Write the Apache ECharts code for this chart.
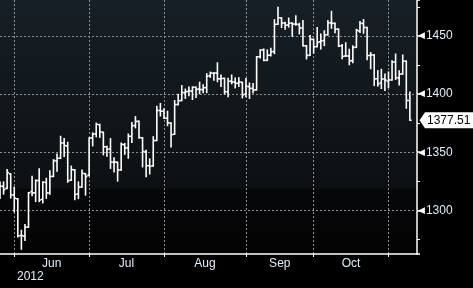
<!DOCTYPE html>
<html>
<head>
<meta charset="utf-8">
<script src="https://cdn.jsdelivr.net/npm/echarts@6/dist/echarts.min.js"></script>
<style>
html,body{margin:0;padding:0;background:#000;}
#c{width:473px;height:288px;}
</style>
</head>
<body>
<div id="c"></div>
<script>
// ---- data ----
const dates = [
 '2012-05-24','2012-05-25','2012-05-29','2012-05-30','2012-05-31',
 '2012-06-01','2012-06-04','2012-06-05','2012-06-06','2012-06-07','2012-06-08','2012-06-11','2012-06-12','2012-06-13','2012-06-14','2012-06-15','2012-06-18','2012-06-19','2012-06-20','2012-06-21','2012-06-22','2012-06-25','2012-06-26','2012-06-27','2012-06-28','2012-06-29',
 '2012-07-02','2012-07-03','2012-07-05','2012-07-06','2012-07-09','2012-07-10','2012-07-11','2012-07-12','2012-07-13','2012-07-16','2012-07-17','2012-07-18','2012-07-19','2012-07-20','2012-07-23','2012-07-24','2012-07-25','2012-07-26','2012-07-27','2012-07-30','2012-07-31',
 '2012-08-01','2012-08-02','2012-08-03','2012-08-06','2012-08-07','2012-08-08','2012-08-09','2012-08-10','2012-08-13','2012-08-14','2012-08-15','2012-08-16','2012-08-17','2012-08-20','2012-08-21','2012-08-22','2012-08-23','2012-08-24','2012-08-27','2012-08-28','2012-08-29','2012-08-30','2012-08-31',
 '2012-09-04','2012-09-05','2012-09-06','2012-09-07','2012-09-10','2012-09-11','2012-09-12','2012-09-13','2012-09-14','2012-09-17','2012-09-18','2012-09-19','2012-09-20','2012-09-21','2012-09-24','2012-09-25','2012-09-26','2012-09-27','2012-09-28',
 '2012-10-01','2012-10-02','2012-10-03','2012-10-04','2012-10-05','2012-10-08','2012-10-09','2012-10-10','2012-10-11','2012-10-12','2012-10-15','2012-10-16','2012-10-17','2012-10-18','2012-10-19','2012-10-22','2012-10-23','2012-10-24','2012-10-25','2012-10-26','2012-10-31',
 '2012-11-01','2012-11-02','2012-11-05','2012-11-06','2012-11-07','2012-11-08'
];
const opens = [
 1318.7,1320.6,1318.9,1331.3,1313.1,
 1309.9,1278.3,1277.8,1285.6,1316.2,1315.0,1325.7,1309.4,1324.0,1314.9,1329.2,1342.4,1344.8,1358.0,1355.4,1325.9,1334.9,1314.1,1320.0,1331.5,1330.1,
 1362.3,1365.8,1373.7,1367.1,1354.7,1353.0,1341.4,1341.3,1334.8,1356.5,1353.7,1363.7,1373.0,1376.5,1362.3,1350.5,1338.4,1338.2,1360.1,1385.9,1385.3,
 1379.3,1375.1,1365.5,1391.0,1394.5,1401.2,1402.3,1402.6,1405.9,1404.4,1403.9,1405.6,1415.8,1417.9,1418.1,1413.1,1413.5,1402.0,1411.1,1410.4,1409.3,1410.1,1400.1,
 1406.5,1404.9,1403.7,1432.1,1437.9,1429.1,1433.6,1436.6,1460.1,1465.4,1461.2,1459.5,1461.0,1460.3,1459.8,1456.9,1441.6,1433.4,1447.1,
 1440.9,1445.0,1446.1,1451.1,1461.4,1460.9,1455.9,1441.5,1432.8,1432.8,1428.8,1440.3,1454.2,1460.9,1457.3,1433.2,1433.7,1413.2,1409.7,1413.0,1411.0,
 1412.2,1427.6,1414.0,1417.3,1428.3,1394.5
];
const highs = [
 1324.1,1324.2,1334.9,1331.3,1319.7,
 1309.9,1282.6,1287.6,1315.1,1329.1,1325.8,1335.5,1324.3,1327.3,1333.7,1343.3,1348.2,1363.5,1361.6,1358.3,1337.8,1334.9,1324.2,1334.4,1331.5,1362.2,
 1366.4,1374.8,1373.9,1367.1,1354.9,1361.5,1345.0,1341.3,1357.7,1357.3,1365.4,1375.3,1380.4,1376.5,1362.3,1351.5,1344.0,1363.1,1389.2,1391.7,1387.2,
 1385.0,1375.1,1394.2,1399.6,1407.1,1404.1,1405.9,1406.0,1405.9,1410.0,1407.7,1417.4,1418.7,1418.1,1426.7,1416.1,1413.5,1413.5,1416.2,1413.6,1413.9,1410.1,1413.1,
 1409.3,1408.8,1432.1,1437.9,1438.7,1437.8,1439.2,1463.8,1474.5,1465.6,1461.5,1465.2,1461.2,1467.1,1460.7,1463.2,1441.6,1450.2,1447.1,
 1457.1,1451.5,1454.3,1463.1,1471.0,1460.9,1455.9,1442.5,1443.9,1438.4,1441.3,1455.5,1462.2,1464.0,1457.3,1435.5,1433.7,1420.0,1421.1,1417.1,1418.8,
 1428.4,1434.3,1419.9,1433.4,1428.3,1401.5
];
const lows = [
 1310.5,1314.2,1318.9,1310.8,1298.9,
 1277.3,1266.7,1274.2,1285.6,1312.7,1307.8,1307.7,1306.6,1310.5,1314.1,1329.2,1333.8,1344.8,1346.5,1324.4,1325.9,1309.3,1310.3,1320.0,1313.3,1330.1,
 1355.7,1363.5,1363.0,1348.0,1346.7,1336.3,1333.3,1325.4,1334.8,1348.5,1345.1,1358.6,1371.2,1362.2,1337.6,1329.2,1331.5,1338.2,1360.1,1381.4,1379.2,
 1373.1,1354.7,1365.5,1391.0,1394.5,1396.6,1398.8,1395.6,1397.3,1400.6,1401.5,1401.5,1414.7,1412.1,1410.9,1406.8,1400.5,1398.0,1409.1,1405.6,1406.8,1397.0,1398.0,
 1396.6,1401.3,1403.7,1431.4,1429.0,1429.1,1433.0,1435.1,1460.1,1457.6,1456.1,1457.9,1450.0,1459.5,1452.1,1441.6,1430.5,1433.4,1435.6,
 1440.9,1439.0,1442.0,1451.1,1456.9,1453.1,1441.2,1430.6,1432.8,1425.5,1427.2,1440.3,1453.3,1452.6,1429.9,1422.1,1407.6,1407.1,1405.1,1403.3,1405.9,
 1412.2,1412.9,1408.1,1417.3,1388.1,1377.5
];
const closes = [
 1320.68,1317.82,1332.42,1313.32,1310.33,
 1278.04,1278.18,1285.50,1315.13,1314.99,1325.66,1308.93,1324.18,1314.88,1329.10,1342.84,1344.78,1357.98,1355.69,1325.51,1335.02,1313.72,1319.99,1331.85,1329.04,1362.16,
 1365.51,1374.02,1367.58,1354.68,1352.46,1341.47,1341.45,1334.76,1356.78,1353.64,1363.67,1372.78,1376.51,1362.66,1350.52,1338.31,1337.89,1360.02,1385.97,1385.30,1379.32,
 1375.32,1365.00,1390.99,1394.23,1401.35,1402.22,1402.80,1405.87,1404.11,1403.93,1405.53,1415.51,1418.16,1418.13,1413.17,1413.49,1402.08,1411.13,1410.44,1409.30,1410.49,1399.48,1406.58,
 1404.94,1403.44,1432.12,1437.92,1429.08,1433.56,1436.56,1459.99,1465.77,1461.19,1459.32,1461.05,1460.26,1460.15,1456.89,1441.59,1433.32,1447.15,1440.67,
 1444.49,1445.75,1450.99,1461.40,1460.93,1455.88,1441.48,1432.56,1432.84,1428.59,1440.13,1454.92,1460.91,1457.34,1433.19,1433.82,1413.11,1408.75,1412.97,1411.94,1412.16,
 1427.59,1414.20,1417.26,1428.39,1394.53,1377.51
];
const monthLabels = ['Jun','Jul','Aug','Sep','Oct'];
const yearLabel = '2012';
const yTicks = [1300,1350,1400,1450];
const lastPrice = 1377.51;
const padCategories = 2;

// ---- build ----
const FONT = "'Liberation Sans', Arial, sans-serif";
const TXT = '#e2edfb';
const cats = dates.concat(Array(padCategories).fill(''));
const ohlc = dates.map((d,i)=>[i, opens[i], highs[i], lows[i], closes[i]]);
const monthEnds = [];
for (let i=0;i<dates.length-1;i++){ if (dates[i].slice(5,7)!==dates[i+1].slice(5,7)) monthEnds.push(i); }
const endSet = new Set(monthEnds);
const labelPos = {};
for (let k=0;k<monthLabels.length;k++){
  const mid=(monthEnds[k]+monthEnds[k+1])/2;
  labelPos[Math.floor(mid)] = {text: monthLabels[k], half: mid%1!==0};
}

const chart = echarts.init(document.getElementById('c'), null, {renderer:'canvas'});
const option = {
  animation:false,
  backgroundColor:'#000',
  title:{text:yearLabel, left:17, top:271, padding:0,
    textStyle:{color:TXT, fontSize:12, fontWeight:'normal', fontFamily:FONT}},
  grid:{left:0, right:56, top:0, bottom:34, show:true, borderWidth:0,
    backgroundColor:new echarts.graphic.LinearGradient(0,0,0,1,[
      {offset:0, color:'#172026'},
      {offset:0.4, color:'#11171b'},
      {offset:0.74, color:'#0c1013'},
      {offset:0.745, color:'#07080a'},
      {offset:1, color:'#030303'}
    ])},
  xAxis:{
    type:'category', data:cats, boundaryGap:false,
    axisLine:{show:true, lineStyle:{color:'#fff', width:1.5}},
    axisTick:{show:true, inside:false, length:3, interval:(i)=>endSet.has(i), lineStyle:{color:'#fff', width:1}},
    splitLine:{show:true, interval:(i)=>endSet.has(i), lineStyle:{color:'#8f8f8f', type:[2,2], width:1}},
    axisLabel:{show:true, margin:4, interval:(i)=>labelPos[i]!==undefined,
      color:TXT, fontSize:12, fontFamily:FONT,
      formatter:(v,i)=>{ const p=labelPos[i]; if(!p) return ''; return p.half ? '{h|'+p.text+'}' : p.text; },
      rich:{h:{padding:[0,0,0,3.6], color:TXT, fontSize:12, fontFamily:FONT}}}
  },
  yAxis:{
    type:'value', position:'right', min:1262.4, max:1481, scale:true,
    axisLine:{show:true, lineStyle:{color:'#fff', width:1.5}},
    axisTick:{show:true, inside:false, length:3, lineStyle:{color:'#fff', width:1.5}},
    minorTick:{show:true, splitNumber:2, length:3, lineStyle:{color:'#fff', width:1}},
    splitLine:{show:false},
    axisLabel:{show:true, margin:1, showMinLabel:false, showMaxLabel:false,
      color:TXT, fontSize:12, fontFamily:FONT,
      formatter:(v)=> yTicks.indexOf(v)>=0 ? '{a|◀}{b|'+v+'}' : '',
      rich:{a:{color:'#ffffff', fontSize:9, fontFamily:'DejaVu Sans', padding:[0,1,0,0]},
            b:{color:TXT, fontSize:12, fontFamily:FONT}}}
  },
  series:[
    {
      type:'custom', name:'grid', silent:true, clip:true,
      data: yTicks.map(v=>[0,v]),
      encode:{x:0, y:1},
      renderItem:(params, api)=>{
        const cs = params.coordSys;
        const y = Math.round(api.coord([0, api.value(1)])[1]) + 0.5;
        return {type:'line', shape:{x1:cs.x, y1:y, x2:cs.x+cs.width, y2:y},
          style:{stroke:'#8f8f8f', lineWidth:1, lineDash:[2,2]}};
      }
    },
    {
      type:'custom', name:'ohlc', silent:true, clip:true,
      data: ohlc,
      encode:{x:0, y:[1,2,3,4]},
      renderItem:(params, api)=>{
        const x = api.value(0);
        const o = api.coord([x, api.value(1)]);
        const h = api.coord([x, api.value(2)]);
        const l = api.coord([x, api.value(3)]);
        const c = api.coord([x, api.value(4)]);
        const w = api.size([1,0])[0]*0.5;
        const st = {stroke:'#fff', lineWidth:1.6};
        return {type:'group', children:[
          {type:'line', shape:{x1:h[0], y1:h[1]-0.8, x2:l[0], y2:l[1]+0.8}, style:st},
          {type:'line', shape:{x1:o[0]-w, y1:o[1], x2:o[0], y2:o[1]}, style:st},
          {type:'line', shape:{x1:c[0], y1:c[1], x2:c[0]+w, y2:c[1]}, style:st}
        ]};
      }
    }
  ]
};
chart.setOption(option);

// last price tag, placed through the y axis scale
const yP = chart.convertToPixel({yAxisIndex:0}, lastPrice);
const axX = chart.convertToPixel({xAxisIndex:0}, cats.length-1);
chart.setOption({
  graphic:[
    {type:'polygon', silent:true, z:100,
      shape:{points:[[axX+2.5, yP],[axX+8, yP-8],[473, yP-8],[473, yP+8],[axX+8, yP+8]]},
      style:{fill:'#fff'}},
    {type:'text', silent:true, z:101, x:axX+10, y:yP,
      style:{text:String(lastPrice), fill:'#000', font:'12px '+FONT, textVerticalAlign:'middle', verticalAlign:'middle'}}
  ]
});
</script>
</body>
</html>
